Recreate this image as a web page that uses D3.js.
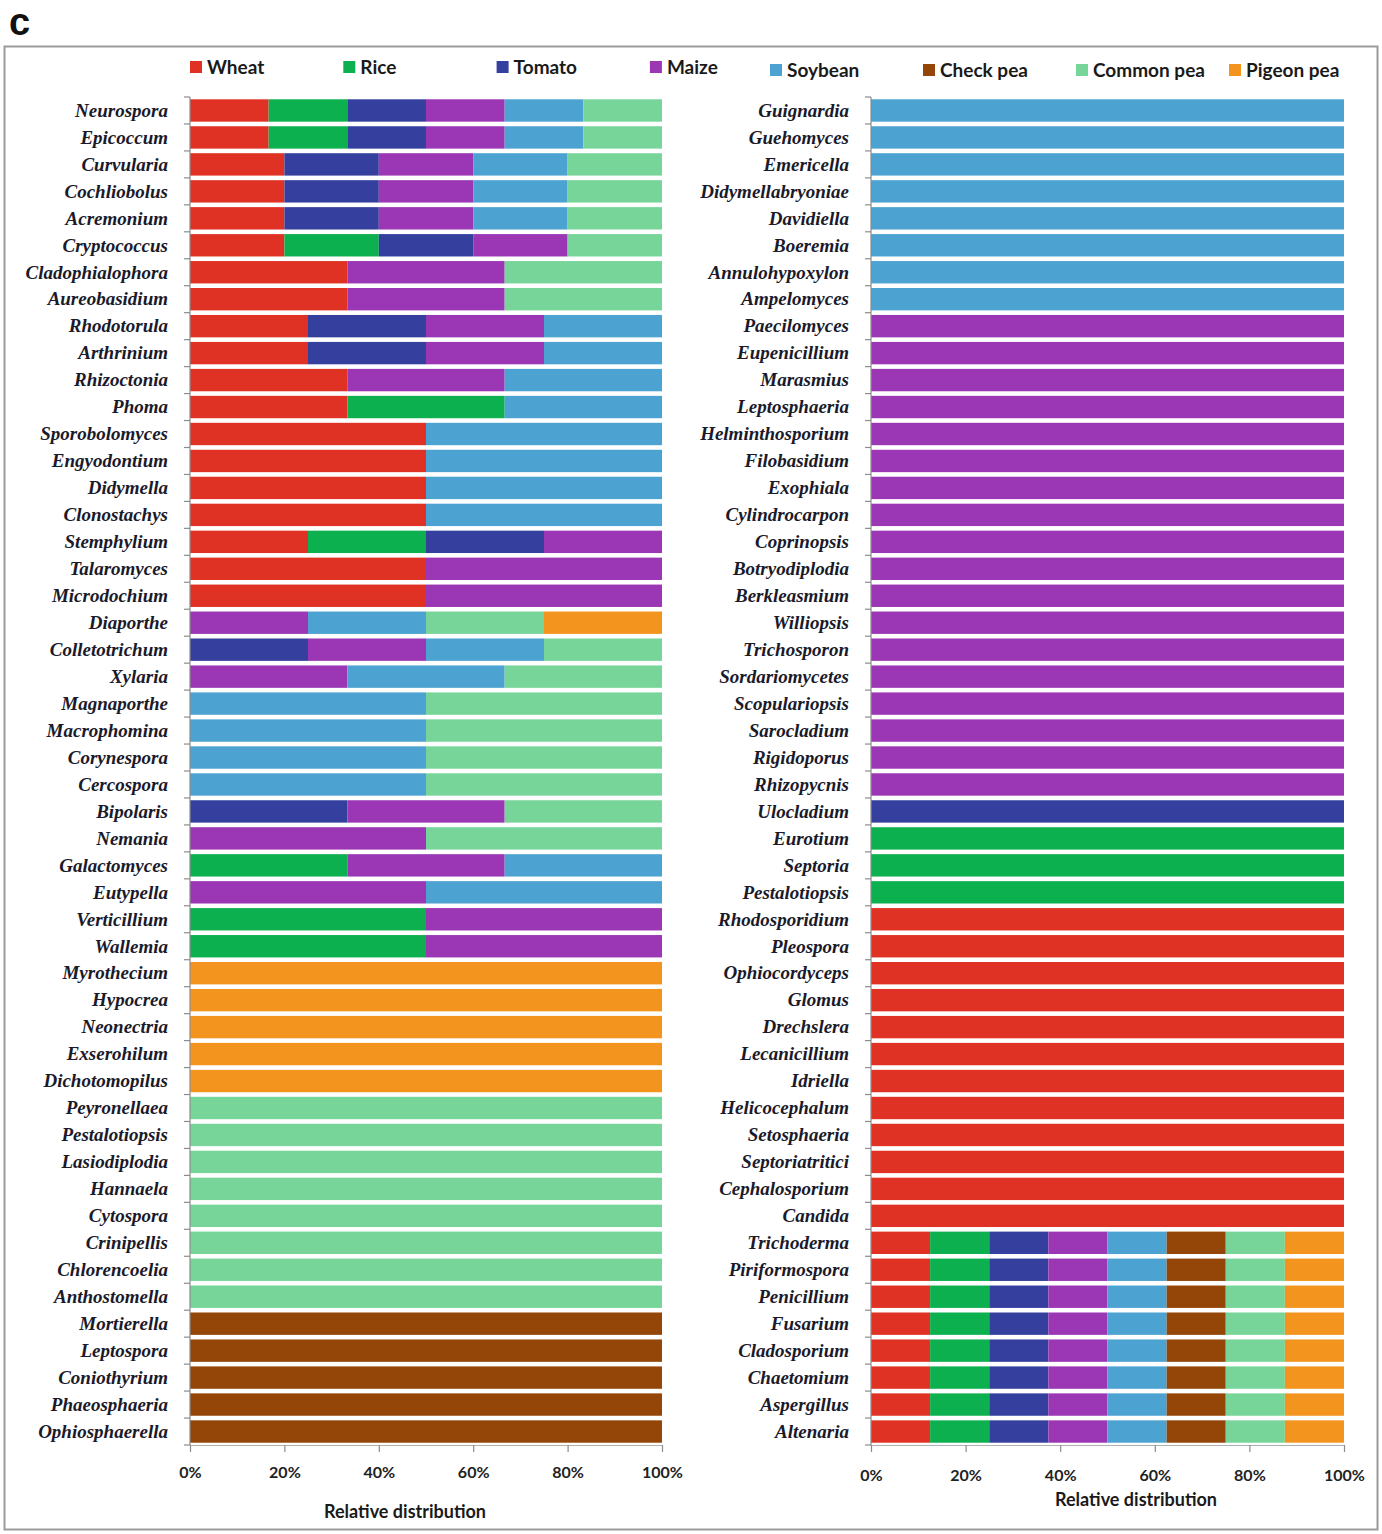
<!DOCTYPE html>
<html>
<head>
<meta charset="utf-8">
<script src="https://cdn.jsdelivr.net/npm/d3@7"></script>
<style>
  body { margin: 0; background: #fff; }
  .genus { font-family: "Liberation Serif", serif; font-weight: bold; font-style: italic; font-size: 19px; fill: #1a1a2a; }
  .tick-label { font-family: Lato, "Open Sans", sans-serif; font-weight: bold; font-size: 16px; fill: #222; }
  .legend-label { font-family: Lato, "Open Sans", sans-serif; font-weight: bold; font-size: 19px; fill: #1a1a1a; }
  .axis-title { font-family: Lato, "Open Sans", sans-serif; font-weight: bold; font-size: 18px; fill: #1a1a1a; }
</style>
</head>
<body>
<div id="chart"></div>
<script>
// 作物（系列）
const crops = ["Wheat", "Rice", "Tomato", "Maize", "Soybean", "Check pea", "Common pea", "Pigeon pea"];
const cropColors = ["#e03224", "#0db04f", "#353f9e", "#9b36b5", "#4ca3d2", "#934607", "#78d59a", "#f3941f"];

// 左图 属名
const leftGenera = [
  "Neurospora", "Epicoccum", "Curvularia", "Cochliobolus", "Acremonium", "Cryptococcus",
  "Cladophialophora", "Aureobasidium", "Rhodotorula", "Arthrinium", "Rhizoctonia", "Phoma",
  "Sporobolomyces", "Engyodontium", "Didymella", "Clonostachys", "Stemphylium", "Talaromyces",
  "Microdochium", "Diaporthe", "Colletotrichum", "Xylaria", "Magnaporthe", "Macrophomina",
  "Corynespora", "Cercospora", "Bipolaris", "Nemania", "Galactomyces", "Eutypella",
  "Verticillium", "Wallemia", "Myrothecium", "Hypocrea", "Neonectria", "Exserohilum",
  "Dichotomopilus", "Peyronellaea", "Pestalotiopsis", "Lasiodiplodia", "Hannaela", "Cytospora",
  "Crinipellis", "Chlorencoelia", "Anthostomella", "Mortierella", "Leptospora", "Coniothyrium",
  "Phaeosphaeria", "Ophiosphaerella"
];
// 每个属在各作物中的出现（顺序同 crops）
const leftValues = [
  [1,1,1,1,1,0,1,0], [1,1,1,1,1,0,1,0], [1,0,1,1,1,0,1,0], [1,0,1,1,1,0,1,0], [1,0,1,1,1,0,1,0],
  [1,1,1,1,0,0,1,0], [1,0,0,1,0,0,1,0], [1,0,0,1,0,0,1,0], [1,0,1,1,1,0,0,0], [1,0,1,1,1,0,0,0],
  [1,0,0,1,1,0,0,0], [1,1,0,0,1,0,0,0], [1,0,0,0,1,0,0,0], [1,0,0,0,1,0,0,0], [1,0,0,0,1,0,0,0],
  [1,0,0,0,1,0,0,0], [1,1,1,1,0,0,0,0], [1,0,0,1,0,0,0,0], [1,0,0,1,0,0,0,0], [0,0,0,1,1,0,1,1],
  [0,0,1,1,1,0,1,0], [0,0,0,1,1,0,1,0], [0,0,0,0,1,0,1,0], [0,0,0,0,1,0,1,0], [0,0,0,0,1,0,1,0],
  [0,0,0,0,1,0,1,0], [0,0,1,1,0,0,1,0], [0,0,0,1,0,0,1,0], [0,1,0,1,1,0,0,0], [0,0,0,1,1,0,0,0],
  [0,1,0,1,0,0,0,0], [0,1,0,1,0,0,0,0], [0,0,0,0,0,0,0,1], [0,0,0,0,0,0,0,1], [0,0,0,0,0,0,0,1],
  [0,0,0,0,0,0,0,1], [0,0,0,0,0,0,0,1], [0,0,0,0,0,0,1,0], [0,0,0,0,0,0,1,0], [0,0,0,0,0,0,1,0],
  [0,0,0,0,0,0,1,0], [0,0,0,0,0,0,1,0], [0,0,0,0,0,0,1,0], [0,0,0,0,0,0,1,0], [0,0,0,0,0,0,1,0],
  [0,0,0,0,0,1,0,0], [0,0,0,0,0,1,0,0], [0,0,0,0,0,1,0,0], [0,0,0,0,0,1,0,0], [0,0,0,0,0,1,0,0]
];

// 右图 属名
const rightGenera = [
  "Guignardia", "Guehomyces", "Emericella", "Didymellabryoniae", "Davidiella", "Boeremia",
  "Annulohypoxylon", "Ampelomyces", "Paecilomyces", "Eupenicillium", "Marasmius", "Leptosphaeria",
  "Helminthosporium", "Filobasidium", "Exophiala", "Cylindrocarpon", "Coprinopsis", "Botryodiplodia",
  "Berkleasmium", "Williopsis", "Trichosporon", "Sordariomycetes", "Scopulariopsis", "Sarocladium",
  "Rigidoporus", "Rhizopycnis", "Ulocladium", "Eurotium", "Septoria", "Pestalotiopsis",
  "Rhodosporidium", "Pleospora", "Ophiocordyceps", "Glomus", "Drechslera", "Lecanicillium",
  "Idriella", "Helicocephalum", "Setosphaeria", "Septoriatritici", "Cephalosporium", "Candida",
  "Trichoderma", "Piriformospora", "Penicillium", "Fusarium", "Cladosporium", "Chaetomium",
  "Aspergillus", "Altenaria"
];
const rightValues = [
  [0,0,0,0,1,0,0,0], [0,0,0,0,1,0,0,0], [0,0,0,0,1,0,0,0], [0,0,0,0,1,0,0,0], [0,0,0,0,1,0,0,0],
  [0,0,0,0,1,0,0,0], [0,0,0,0,1,0,0,0], [0,0,0,0,1,0,0,0], [0,0,0,1,0,0,0,0], [0,0,0,1,0,0,0,0],
  [0,0,0,1,0,0,0,0], [0,0,0,1,0,0,0,0], [0,0,0,1,0,0,0,0], [0,0,0,1,0,0,0,0], [0,0,0,1,0,0,0,0],
  [0,0,0,1,0,0,0,0], [0,0,0,1,0,0,0,0], [0,0,0,1,0,0,0,0], [0,0,0,1,0,0,0,0], [0,0,0,1,0,0,0,0],
  [0,0,0,1,0,0,0,0], [0,0,0,1,0,0,0,0], [0,0,0,1,0,0,0,0], [0,0,0,1,0,0,0,0], [0,0,0,1,0,0,0,0],
  [0,0,0,1,0,0,0,0], [0,0,1,0,0,0,0,0], [0,1,0,0,0,0,0,0], [0,1,0,0,0,0,0,0], [0,1,0,0,0,0,0,0],
  [1,0,0,0,0,0,0,0], [1,0,0,0,0,0,0,0], [1,0,0,0,0,0,0,0], [1,0,0,0,0,0,0,0], [1,0,0,0,0,0,0,0],
  [1,0,0,0,0,0,0,0], [1,0,0,0,0,0,0,0], [1,0,0,0,0,0,0,0], [1,0,0,0,0,0,0,0], [1,0,0,0,0,0,0,0],
  [1,0,0,0,0,0,0,0], [1,0,0,0,0,0,0,0], [1,1,1,1,1,1,1,1], [1,1,1,1,1,1,1,1], [1,1,1,1,1,1,1,1],
  [1,1,1,1,1,1,1,1], [1,1,1,1,1,1,1,1], [1,1,1,1,1,1,1,1], [1,1,1,1,1,1,1,1], [1,1,1,1,1,1,1,1]
];

const xTicks = [0, 0.2, 0.4, 0.6, 0.8, 1];
const xTitle = "Relative distribution";

const width = 1382, height = 1534;

const svg = d3.select("#chart")
  .append("svg")
  .attr("width", width)
  .attr("height", height);

// 面板标记
svg.append("text")
  .attr("x", 9)
  .attr("y", 35)
  .attr("font-family", "Liberation Sans, Arial, sans-serif")
  .attr("font-weight", "bold")
  .attr("font-size", "38px")
  .attr("fill", "#111")
  .text("c");

// 外框
svg.append("rect")
  .attr("x", 4.5)
  .attr("y", 46.5)
  .attr("width", 1373)
  .attr("height", 1483)
  .attr("fill", "none")
  .attr("stroke", "#9a9a9a")
  .attr("stroke-width", 2);

// 图例
const legendRows = [
  { start: 190, step: 153.3, y: 67, items: [0, 1, 2, 3] },
  { start: 770, step: 153, y: 70, items: [4, 5, 6, 7] }
];
legendRows.forEach(row => {
  row.items.forEach((ci, j) => {
    const g = svg.append("g")
      .attr("transform", `translate(${row.start + j * row.step}, ${row.y})`);
    g.append("rect")
      .attr("x", 0)
      .attr("y", -6)
      .attr("width", 12)
      .attr("height", 12)
      .attr("fill", cropColors[ci]);
    g.append("text")
      .attr("class", "legend-label")
      .attr("x", 17)
      .attr("dy", "0.35em")
      .text(crops[ci]);
  });
});

function drawPanel(genera, values, opts) {
  const rows = genera.map((name, i) => {
    const row = { name: name };
    crops.forEach((c, k) => { row[c] = values[i][k]; });
    return row;
  });

  const stacked = d3.stack()
    .keys(crops)
    .offset(d3.stackOffsetExpand)(rows);

  const x = d3.scaleLinear()
    .domain([0, 1])
    .range([opts.x0, opts.x1]);

  const y = d3.scaleBand()
    .domain(genera)
    .range([opts.y0, opts.y1])
    .paddingInner(0.17)
    .paddingOuter(0.085);

  const g = svg.append("g");

  // 堆叠条
  g.selectAll(".series")
    .data(stacked)
    .enter()
    .append("g")
    .attr("class", "series")
    .attr("fill", (d, i) => cropColors[i])
    .selectAll("rect")
    .data(d => d.filter(s => s[1] - s[0] > 0))
    .enter()
    .append("rect")
    .attr("x", d => x(d[0]))
    .attr("y", d => y(d.data.name))
    .attr("width", d => x(d[1]) - x(d[0]))
    .attr("height", y.bandwidth());

  // 纵轴
  g.append("line")
    .attr("x1", opts.x0).attr("x2", opts.x0)
    .attr("y1", opts.y0).attr("y2", opts.y1)
    .attr("stroke", "#8c8c8c")
    .attr("stroke-width", 1.2);

  const step = y.step();
  d3.range(genera.length + 1).forEach(i => {
    const yy = opts.y0 + i * step;
    g.append("line")
      .attr("x1", opts.x0 - 6).attr("x2", opts.x0)
      .attr("y1", yy).attr("y2", yy)
      .attr("stroke", "#8c8c8c")
      .attr("stroke-width", 1.2);
  });

  g.selectAll(".genus")
    .data(genera)
    .enter()
    .append("text")
    .attr("class", "genus")
    .attr("x", opts.x0 - 22)
    .attr("y", d => y(d) + y.bandwidth() / 2)
    .attr("dy", "0.33em")
    .attr("text-anchor", "end")
    .text(d => d);

  // 横轴
  const xAxis = g.append("g")
    .attr("transform", `translate(0, ${opts.y1})`)
    .call(d3.axisBottom(x).tickValues(xTicks).tickSize(7).tickFormat(d3.format(".0%")));
  xAxis.select(".domain").attr("stroke", "#b0b0b0");
  xAxis.selectAll(".tick line").attr("stroke", "#8c8c8c").attr("stroke-width", 1.2);
  xAxis.selectAll(".tick text")
    .attr("class", "tick-label")
    .attr("font-family", null)
    .attr("font-size", null)
    .attr("fill", null)
    .attr("y", opts.tickY - opts.y1)
    .attr("dy", "0.35em");

  g.append("text")
    .attr("class", "axis-title")
    .attr("x", opts.titleX)
    .attr("y", opts.titleY)
    .attr("dy", "0.35em")
    .attr("text-anchor", "middle")
    .text(xTitle);
}

drawPanel(leftGenera, leftValues, {
  x0: 190, x1: 662, y0: 97, y1: 1445, tickY: 1472, titleX: 405, titleY: 1512
});

drawPanel(rightGenera, rightValues, {
  x0: 871, x1: 1344, y0: 97, y1: 1445, tickY: 1475, titleX: 1136, titleY: 1500
});
</script>
</body>
</html>
